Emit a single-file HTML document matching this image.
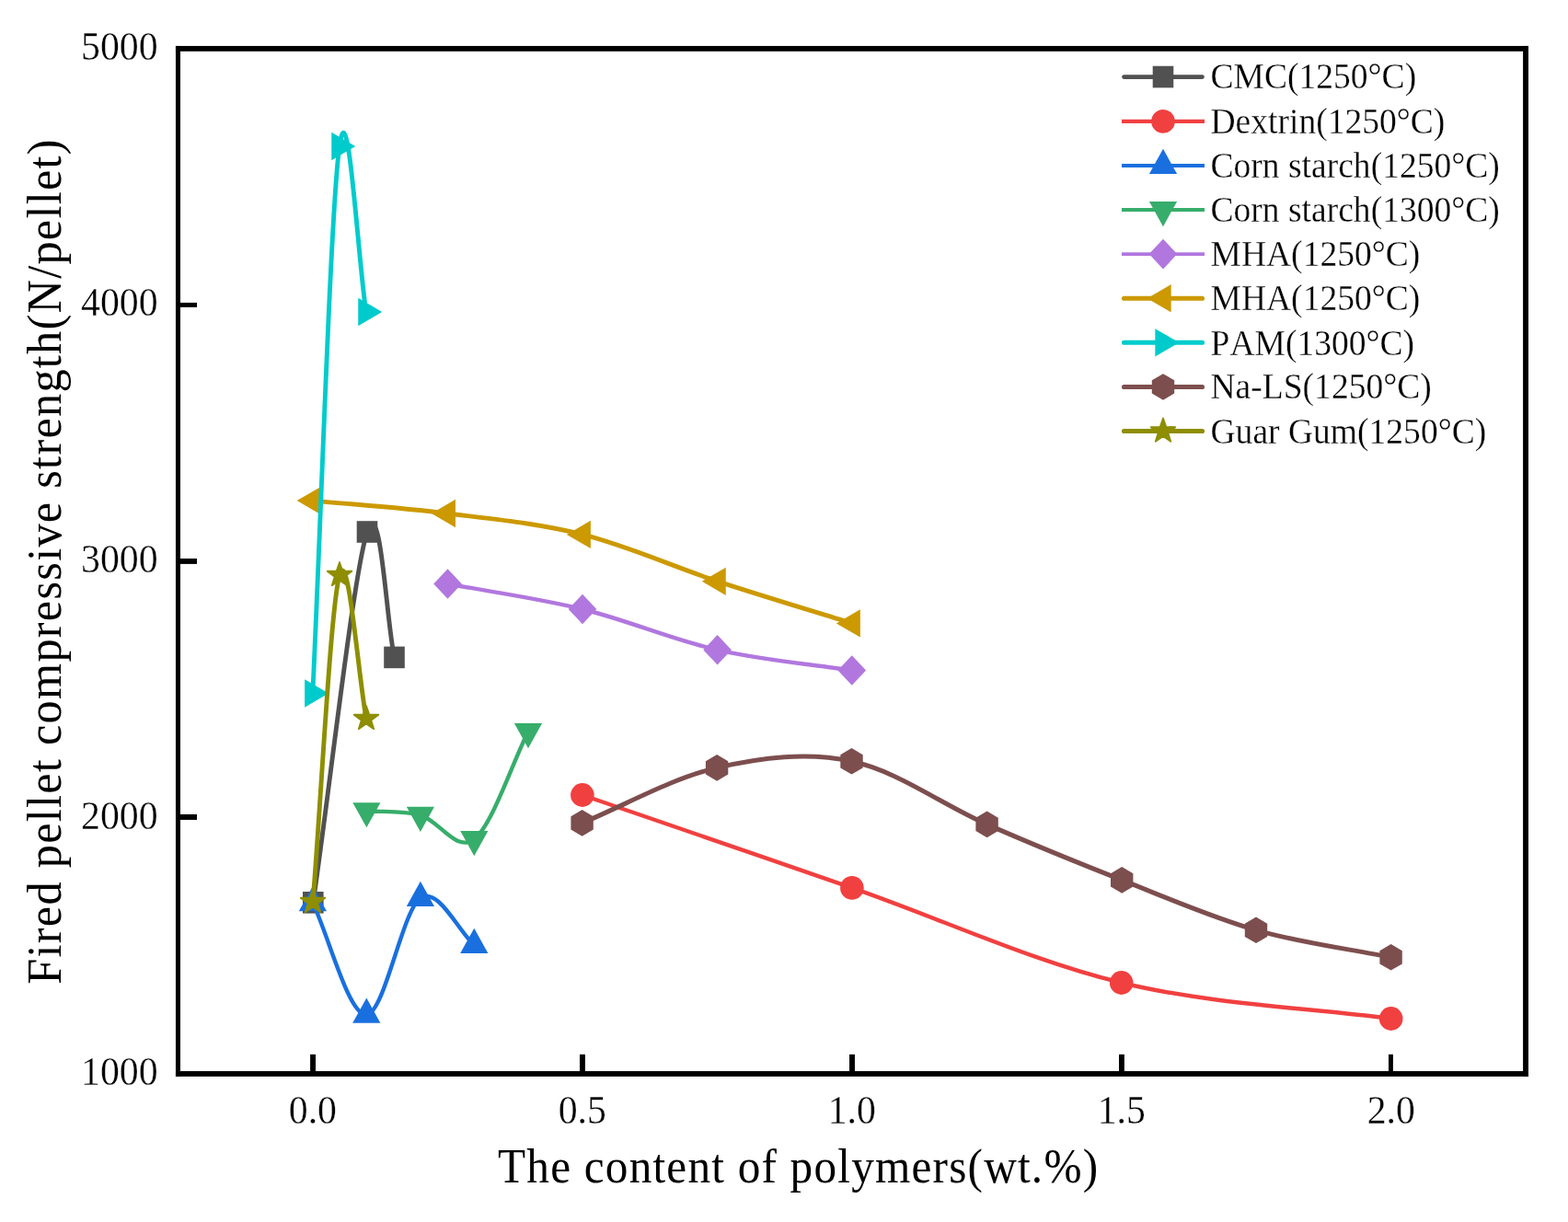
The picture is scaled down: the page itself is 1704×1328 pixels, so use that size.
<!DOCTYPE html>
<html lang="en"><head><meta charset="utf-8"><title>Fired pellet compressive strength vs polymer content</title>
<style>
html,body{margin:0;padding:0;background:#fff;}
body{width:1704px;height:1328px;overflow:hidden;}
svg{display:block;}
</style></head><body>
<svg width="1704" height="1328" viewBox="0 0 1704 1328">
<rect width="1704" height="1328" fill="#fff"/>
<g fill="#515151" color="#515151" stroke="none">
<path d="M340.30,980.80 C357.91,859.96 384.30,622.40 399.00,578.00 C413.70,533.60 419.65,673.48 428.50,714.40" fill="none" stroke="#515151" stroke-width="4.9" stroke-linejoin="round" stroke-linecap="round"/>
<rect x="329.00" y="969.00" width="22.60" height="23.60"/>
<rect x="387.70" y="566.20" width="22.60" height="23.60"/>
<rect x="417.20" y="702.60" width="22.60" height="23.60"/>
</g>
<g fill="#F14040" color="#F14040" stroke="none">
<path d="M632.90,864.00 C720.80,894.27 828.27,930.90 925.90,964.90 C1023.53,998.90 1121.07,1044.32 1218.70,1068.00 C1316.33,1091.68 1423.80,1095.30 1511.70,1107.00" fill="none" stroke="#F14040" stroke-width="4.4" stroke-linejoin="round" stroke-linecap="butt"/>
<ellipse cx="632.90" cy="864.00" rx="12.80" ry="12.90"/>
<ellipse cx="925.90" cy="964.90" rx="12.80" ry="12.90"/>
<ellipse cx="1218.70" cy="1068.00" rx="12.80" ry="12.90"/>
<ellipse cx="1511.70" cy="1107.00" rx="12.80" ry="12.90"/>
</g>
<g fill="#1A6FDF" color="#1A6FDF" stroke="none">
<path d="M339.90,981.10 C357.42,1017.58 378.80,1103.55 398.30,1102.70 C417.80,1101.85 437.40,988.63 456.90,976.00 C476.40,963.37 497.78,1011.63 515.30,1026.90" fill="none" stroke="#1A6FDF" stroke-width="4.4" stroke-linejoin="round" stroke-linecap="butt"/>
<polygon points="339.90,962.97 355.00,990.17 324.80,990.17"/>
<polygon points="398.30,1084.57 413.40,1111.77 383.20,1111.77"/>
<polygon points="456.90,957.87 472.00,985.07 441.80,985.07"/>
<polygon points="515.30,1008.77 530.40,1035.97 500.20,1035.97"/>
</g>
<g fill="#37AD6B" color="#37AD6B" stroke="none">
<path d="M398.40,881.20 C415.95,882.58 437.42,880.67 456.90,885.80 C476.38,890.93 495.78,927.13 515.30,912.00 C534.82,896.87 556.39,830.10 574.00,795.00" fill="none" stroke="#37AD6B" stroke-width="4.4" stroke-linejoin="round" stroke-linecap="butt"/>
<polygon points="398.40,899.33 413.50,872.13 383.30,872.13"/>
<polygon points="456.90,903.93 472.00,876.73 441.80,876.73"/>
<polygon points="515.30,930.13 530.40,902.93 500.20,902.93"/>
<polygon points="574.00,813.13 589.10,785.93 558.90,785.93"/>
</g>
<g fill="#B177DE" color="#B177DE" stroke="none">
<path d="M486.50,634.50 C530.45,642.75 584.15,650.03 633.00,662.00 C681.85,673.97 730.80,695.22 779.60,706.30 C828.40,717.38 881.94,721.84 925.80,728.50" fill="none" stroke="#B177DE" stroke-width="4.4" stroke-linejoin="round" stroke-linecap="butt"/>
<polygon points="486.50,618.20 501.80,634.50 486.50,650.80 471.20,634.50"/>
<polygon points="633.00,645.70 648.30,662.00 633.00,678.30 617.70,662.00"/>
<polygon points="779.60,690.00 794.90,706.30 779.60,722.60 764.30,706.30"/>
<polygon points="925.80,712.20 941.10,728.50 925.80,744.80 910.50,728.50"/>
</g>
<g fill="#CC9900" color="#CC9900" stroke="none">
<path d="M340.00,544.10 C383.89,548.27 437.43,551.87 486.30,558.00 C535.17,564.13 584.23,568.60 633.20,580.90 C682.17,593.20 731.27,615.72 780.10,631.80 C828.93,647.88 882.37,663.72 926.20,677.40" fill="none" stroke="#CC9900" stroke-width="4.9" stroke-linejoin="round" stroke-linecap="round"/>
<polygon points="322.67,544.10 348.67,528.95 348.67,559.25"/>
<polygon points="468.97,558.00 494.97,542.85 494.97,573.15"/>
<polygon points="615.87,580.90 641.87,565.75 641.87,596.05"/>
<polygon points="762.77,631.80 788.77,616.65 788.77,646.95"/>
<polygon points="908.87,677.40 934.87,662.25 934.87,692.55"/>
</g>
<g fill="#00CBCC" color="#00CBCC" stroke="none">
<path d="M339.80,753.50 C348.53,575.15 359.22,228.08 368.90,159.00 C378.58,89.92 389.20,285.00 397.90,339.00" fill="none" stroke="#00CBCC" stroke-width="4.9" stroke-linejoin="round" stroke-linecap="round"/>
<polygon points="357.13,753.50 331.13,738.35 331.13,768.65"/>
<polygon points="386.23,159.00 360.23,143.85 360.23,174.15"/>
<polygon points="415.23,339.00 389.23,323.85 389.23,354.15"/>
</g>
<g fill="#7D4E4E" color="#7D4E4E" stroke="none">
<path d="M632.60,894.40 C676.55,876.40 730.28,845.58 779.10,834.40 C827.92,823.22 876.58,817.05 925.50,827.30 C974.42,837.55 1023.65,874.38 1072.60,895.90 C1121.55,917.42 1170.47,937.25 1219.20,956.40 C1267.93,975.55 1316.27,996.82 1365.00,1010.80 C1413.73,1024.78 1467.62,1031.45 1511.60,1040.30" fill="none" stroke="#7D4E4E" stroke-width="5.0" stroke-linejoin="round" stroke-linecap="round"/>
<polygon points="632.60,880.10 644.80,887.25 644.80,901.55 632.60,908.70 620.40,901.55 620.40,887.25"/>
<polygon points="779.10,820.10 791.30,827.25 791.30,841.55 779.10,848.70 766.90,841.55 766.90,827.25"/>
<polygon points="925.50,813.00 937.70,820.15 937.70,834.45 925.50,841.60 913.30,834.45 913.30,820.15"/>
<polygon points="1072.60,881.60 1084.80,888.75 1084.80,903.05 1072.60,910.20 1060.40,903.05 1060.40,888.75"/>
<polygon points="1219.20,942.10 1231.40,949.25 1231.40,963.55 1219.20,970.70 1207.00,963.55 1207.00,949.25"/>
<polygon points="1365.00,996.50 1377.20,1003.65 1377.20,1017.95 1365.00,1025.10 1352.80,1017.95 1352.80,1003.65"/>
<polygon points="1511.60,1026.00 1523.80,1033.15 1523.80,1047.45 1511.60,1054.60 1499.40,1047.45 1499.40,1033.15"/>
</g>
<g fill="#8E8E00" color="#8E8E00" stroke="none">
<path d="M340.00,980.00 C348.70,873.50 359.33,658.17 369.00,625.00 C378.67,591.83 389.30,734.20 398.00,781.00" fill="none" stroke="#8E8E00" stroke-width="4.9" stroke-linejoin="round" stroke-linecap="round"/>
<polygon points="340.00,966.00 343.29,975.47 353.31,975.67 345.33,981.73 348.23,991.33 340.00,985.60 331.77,991.33 334.67,981.73 326.69,975.67 336.71,975.47" stroke="currentColor" stroke-width="1.8" stroke-linejoin="round"/>
<polygon points="369.00,611.00 372.29,620.47 382.31,620.67 374.33,626.73 377.23,636.33 369.00,630.60 360.77,636.33 363.67,626.73 355.69,620.67 365.71,620.47" stroke="currentColor" stroke-width="1.8" stroke-linejoin="round"/>
<polygon points="398.00,767.00 401.29,776.47 411.31,776.67 403.33,782.73 406.23,792.33 398.00,786.60 389.77,792.33 392.67,782.73 384.69,776.67 394.71,776.47" stroke="currentColor" stroke-width="1.8" stroke-linejoin="round"/>
</g>
<g fill="#000" stroke="none">
<rect x="190.95" y="49.95" width="5.05" height="1119.95"/>
<rect x="1655.10" y="49.95" width="5.90" height="1119.95"/>
<rect x="190.95" y="49.95" width="1470.05" height="5.85"/>
<rect x="190.95" y="1164.05" width="1470.05" height="5.85"/>
<rect x="195.00" y="328.92" width="19.00" height="4.97"/>
<rect x="195.00" y="606.98" width="19.00" height="5.92"/>
<rect x="195.00" y="884.94" width="19.00" height="6.01"/>
<rect x="337.10" y="1145.85" width="5.90" height="19.15"/>
<rect x="630.00" y="1145.85" width="5.90" height="19.15"/>
<rect x="923.05" y="1145.85" width="5.91" height="19.15"/>
<rect x="1216.00" y="1145.85" width="5.90" height="19.15"/>
<rect x="1509.00" y="1145.85" width="4.90" height="19.15"/>
</g>
<g font-family="'Liberation Serif', 'Times New Roman', serif" fill="#000" stroke="#fff" stroke-width="0.3" style="font-kerning:none">
<text transform="translate(171.60,1179.20) scale(0.9620,1)" font-size="43.40" text-anchor="end">1000</text>
<text transform="translate(171.60,900.62) scale(0.9620,1)" font-size="43.40" text-anchor="end">2000</text>
<text transform="translate(171.60,622.05) scale(0.9620,1)" font-size="43.40" text-anchor="end">3000</text>
<text transform="translate(171.60,343.48) scale(0.9620,1)" font-size="43.40" text-anchor="end">4000</text>
<text transform="translate(171.60,64.90) scale(0.9620,1)" font-size="43.40" text-anchor="end">5000</text>
<text transform="translate(339.85,1221.25) scale(0.9620,1)" font-size="43.40" text-anchor="middle">0.0</text>
<text transform="translate(632.83,1221.25) scale(0.9620,1)" font-size="43.40" text-anchor="middle">0.5</text>
<text transform="translate(925.80,1221.25) scale(0.9620,1)" font-size="43.40" text-anchor="middle">1.0</text>
<text transform="translate(1218.78,1221.25) scale(0.9620,1)" font-size="43.40" text-anchor="middle">1.5</text>
<text transform="translate(1511.75,1221.25) scale(0.9620,1)" font-size="43.40" text-anchor="middle">2.0</text>
<text transform="translate(541.00,1284.90) scale(0.9250,1)" font-size="53.30" letter-spacing="1.288" stroke="none">The content of polymers(wt.%)</text>
<text transform="translate(66.00,1069.70) rotate(-90) scale(0.9437,1)" font-size="53.30" letter-spacing="1.357" stroke="none">Fired pellet compressive strength(N/pellet)</text>
<line x1="1221.5" y1="83.55" x2="1306.5" y2="83.55" stroke="#515151" stroke-width="4.70" stroke-linecap="round"/>
<g fill="#515151" color="#515151" stroke="none"><rect x="1252.70" y="71.75" width="22.60" height="23.60"/></g>
<text transform="translate(1315.50,95.60) scale(0.9295,1)" font-size="40.40">CMC(1250°C)</text>
<line x1="1219.0" y1="131.90" x2="1309.0" y2="131.90" stroke="#F14040" stroke-width="4.10" stroke-linecap="butt"/>
<g fill="#F14040" color="#F14040" stroke="none"><ellipse cx="1264.00" cy="131.90" rx="12.80" ry="12.90"/></g>
<text transform="translate(1315.50,144.80) scale(0.9295,1)" font-size="40.40">Dextrin(1250°C)</text>
<line x1="1219.0" y1="180.00" x2="1309.0" y2="180.00" stroke="#1A6FDF" stroke-width="4.00" stroke-linecap="butt"/>
<g fill="#1A6FDF" color="#1A6FDF" stroke="none"><polygon points="1264.00,161.87 1279.10,189.07 1248.90,189.07"/></g>
<text transform="translate(1315.50,192.80) scale(0.9295,1)" font-size="40.40">Corn starch(1250°C)</text>
<line x1="1219.0" y1="228.05" x2="1309.0" y2="228.05" stroke="#37AD6B" stroke-width="4.00" stroke-linecap="butt"/>
<g fill="#37AD6B" color="#37AD6B" stroke="none"><polygon points="1264.00,246.18 1279.10,218.98 1248.90,218.98"/></g>
<text transform="translate(1315.50,240.70) scale(0.9295,1)" font-size="40.40">Corn starch(1300°C)</text>
<line x1="1219.0" y1="276.10" x2="1309.0" y2="276.10" stroke="#B177DE" stroke-width="3.80" stroke-linecap="butt"/>
<g fill="#B177DE" color="#B177DE" stroke="none"><polygon points="1264.00,259.80 1279.30,276.10 1264.00,292.40 1248.70,276.10"/></g>
<text transform="translate(1315.50,288.60) scale(0.9295,1)" font-size="40.40">MHA(1250°C)</text>
<line x1="1221.5" y1="324.20" x2="1306.5" y2="324.20" stroke="#CC9900" stroke-width="5.10" stroke-linecap="round"/>
<g fill="#CC9900" color="#CC9900" stroke="none"><polygon points="1246.67,324.20 1272.67,309.05 1272.67,339.35"/></g>
<text transform="translate(1315.50,337.20) scale(0.9295,1)" font-size="40.40">MHA(1250°C)</text>
<line x1="1221.5" y1="372.30" x2="1306.5" y2="372.30" stroke="#00CBCC" stroke-width="5.10" stroke-linecap="round"/>
<g fill="#00CBCC" color="#00CBCC" stroke="none"><polygon points="1281.33,372.30 1255.33,357.15 1255.33,387.45"/></g>
<text transform="translate(1315.50,385.60) scale(0.9295,1)" font-size="40.40">PAM(1300°C)</text>
<line x1="1221.5" y1="420.45" x2="1306.5" y2="420.45" stroke="#7D4E4E" stroke-width="5.10" stroke-linecap="round"/>
<g fill="#7D4E4E" color="#7D4E4E" stroke="none"><polygon points="1264.00,406.15 1276.20,413.30 1276.20,427.60 1264.00,434.75 1251.80,427.60 1251.80,413.30"/></g>
<text transform="translate(1315.50,433.30) scale(0.9295,1)" font-size="40.40">Na-LS(1250°C)</text>
<line x1="1221.5" y1="468.50" x2="1306.5" y2="468.50" stroke="#8E8E00" stroke-width="5.15" stroke-linecap="round"/>
<g fill="#8E8E00" color="#8E8E00" stroke="none"><polygon points="1264.00,454.50 1267.29,463.97 1277.31,464.17 1269.33,470.23 1272.23,479.83 1264.00,474.10 1255.77,479.83 1258.67,470.23 1250.69,464.17 1260.71,463.97" stroke="currentColor" stroke-width="1.8" stroke-linejoin="round"/></g>
<text transform="translate(1315.50,481.50) scale(0.9295,1)" font-size="40.40">Guar Gum(1250°C)</text>
</g>
</svg>
</body></html>
